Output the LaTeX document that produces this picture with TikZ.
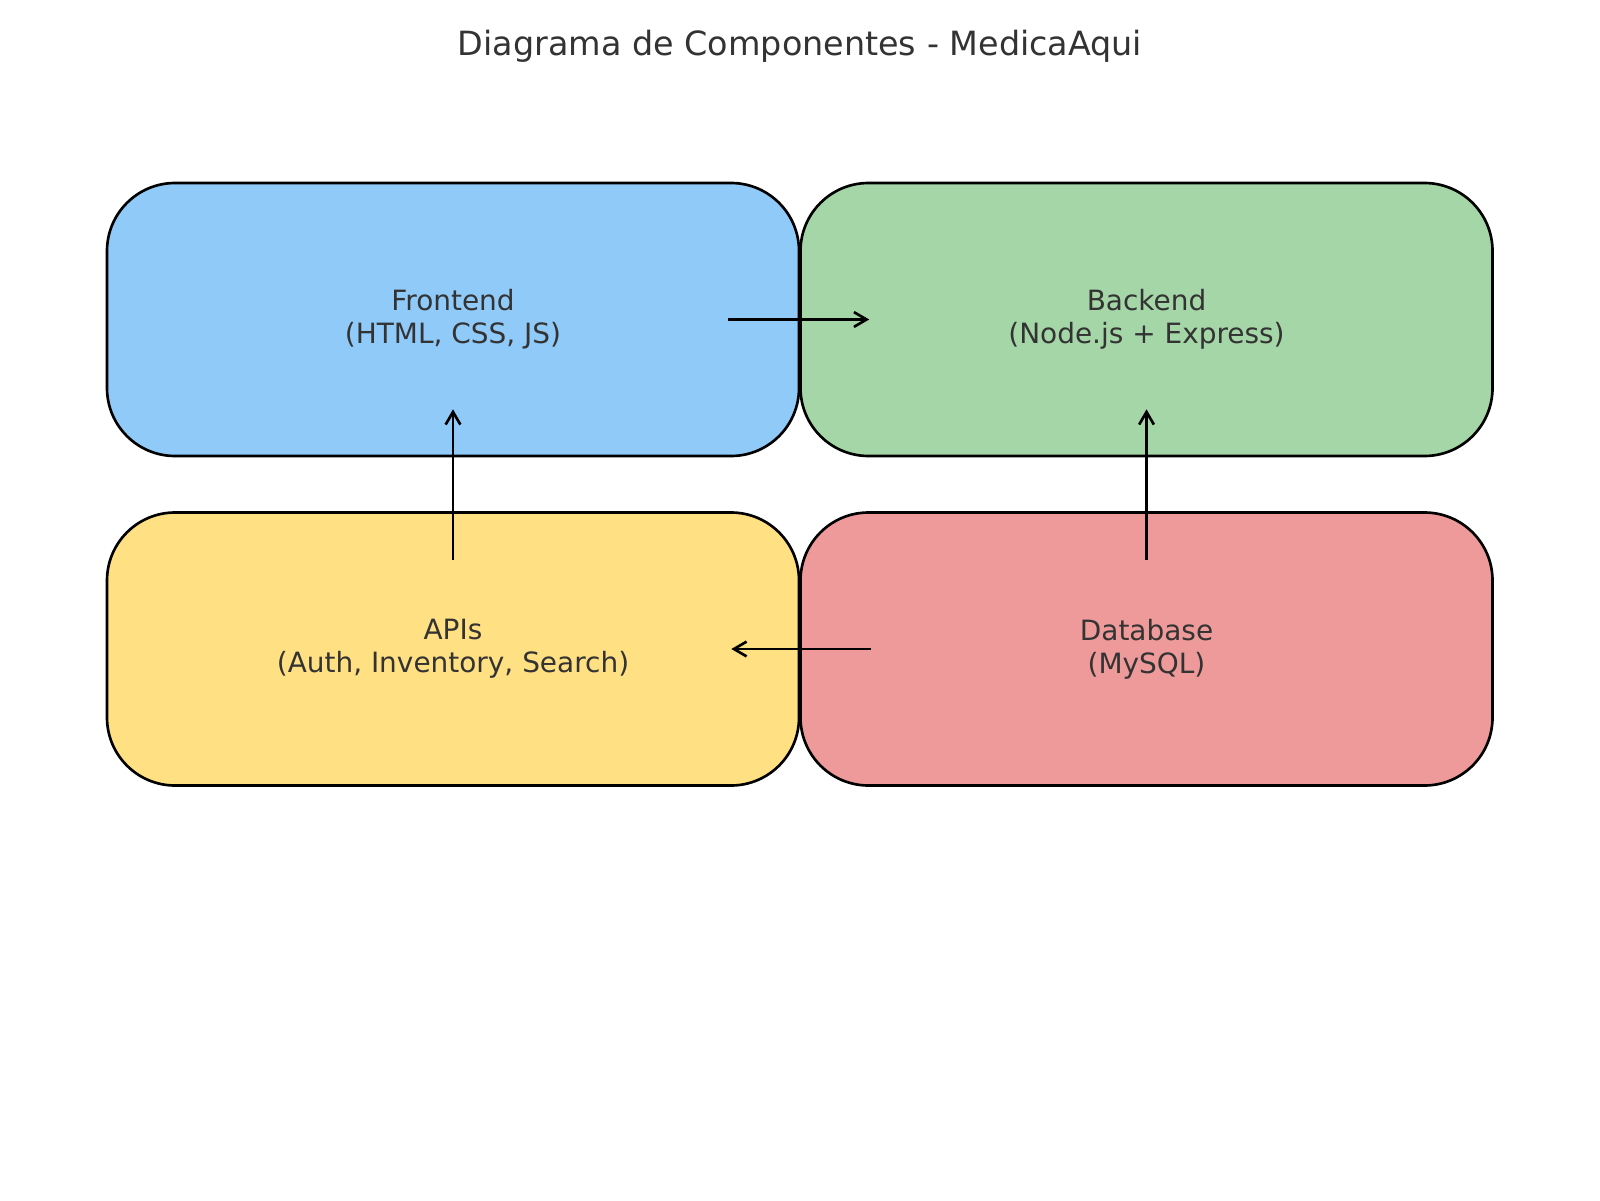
\documentclass[tikz,border=0pt]{standalone}
\usepackage{fontspec}
\setmainfont{DejaVu Sans}
\usetikzlibrary{arrows.meta}
\definecolor{txt}{HTML}{333333}
\definecolor{frontc}{HTML}{90CAF9}
\definecolor{backc}{HTML}{A5D6A7}
\definecolor{apic}{HTML}{FFE082}
\definecolor{dbc}{HTML}{EF9A9A}

\begin{document}
\begin{tikzpicture}[>={Straight Barb[length=3.6pt,width=4.2pt]},
  comp/.style={draw=black,line width=0.75pt,rounded corners=0.68cm,
    minimum width=6.92cm,minimum height=2.73cm,inner sep=0pt,align=center,
    text=txt,font=\fontsize{7.95}{9.3}\selectfont},
  flow/.style={->,line width=0.75pt}]
 \useasboundingbox (0,0) rectangle (16,12);
 \node[text=txt,font=\fontsize{9.5}{11}\selectfont] (title) at (8,11.54)
   {Diagrama de Componentes - MedicaAqui};
 \node[comp,fill=frontc] (front) at (4.53,8.805) {Frontend\\(HTML, CSS, JS)};
 \node[comp,fill=backc] (back) at (11.465,8.805) {Backend\\(Node.js + Express)};
 \node[comp,fill=apic] (apis) at (4.53,5.51) {APIs\\(Auth, Inventory, Search)};
 \node[comp,fill=dbc] (db) at (11.465,5.51) {Database\\(MySQL)};
 \draw[flow] ([xshift=-0.72cm]front.east) -- ([xshift=0.70cm]back.west);
 \draw[flow] ([yshift=-0.49cm]apis.north) -- ([yshift=0.48cm]front.south);
 \draw[flow] ([yshift=-0.49cm]db.north) -- ([yshift=0.48cm]back.south);
 \draw[flow] ([xshift=0.72cm]db.west) -- ([xshift=-0.69cm]apis.east);
\end{tikzpicture}
\end{document}
